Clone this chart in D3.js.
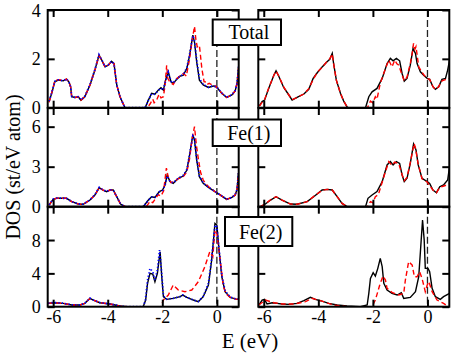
<!DOCTYPE html>
<html>
<head>
<meta charset="utf-8">
<script src="https://cdn.jsdelivr.net/npm/d3@7"></script>
<style>
body { margin: 0; background: #fff; }
svg text { fill: #000; }
</style>
</head>
<body>
<svg id="chart" width="452" height="354"></svg>
<script>
// energy ticks and panel names
var eTicks = [-6, -4, -2, 0];
var panelNames = ["Total", "Fe(1)", "Fe(2)"];
var yMaxes = [4, 7.4, 12];
var yTicks = [[0, 2, 4], [0, 3, 6], [0, 4, 8]];

// Total, left column
var totL_black = [[-6.15,0.25],[-6.05,0.6],[-5.94,1.06],[-5.82,1.13],[-5.63,1.1],[-5.51,1.17],[-5.42,1.05],[-5.36,0.86],[-5.32,0.45],[-5.2,0.42],[-5.08,0.45],[-4.98,0.31],[-4.84,0.45],[-4.65,0.93],[-4.47,1.54],[-4.32,2.15],[-4.22,1.95],[-4.1,1.67],[-3.98,1.74],[-3.86,1.9],[-3.77,1.81],[-3.67,0.93],[-3.55,0.45],[-3.37,0],[-2.63,0],[-2.51,0.31],[-2.39,0.59],[-2.27,0.55],[-2.15,0.72],[-2.05,0.82],[-1.96,0.72],[-1.88,1.13],[-1.78,1.47],[-1.68,1.06],[-1.6,1.0],[-1.47,1.16],[-1.35,1.29],[-1.23,1.33],[-1.1,1.61],[-1.01,2.08],[-0.88,2.97],[-0.82,2.69],[-0.74,1.88],[-0.64,1.13],[-0.5,0.93],[-0.31,0.83],[-0.13,0.89],[0,0.83],[0.18,0.59],[0.36,0.42],[0.55,0.52],[0.67,0.69],[0.74,1.0],[0.8,1.7]];
var totL_blue = [[-6.15,0.27],[-6.05,0.62],[-5.94,1.08],[-5.82,1.14],[-5.63,1.1],[-5.51,1.18],[-5.42,1.04],[-5.36,0.86],[-5.32,0.46],[-5.2,0.42],[-5.08,0.45],[-4.98,0.32],[-4.84,0.46],[-4.65,0.95],[-4.47,1.56],[-4.32,2.17],[-4.22,1.96],[-4.1,1.68],[-3.98,1.75],[-3.86,1.9],[-3.77,1.8],[-3.67,0.93],[-3.55,0.45],[-3.37,0],[-2.63,0],[-2.51,0.3],[-2.39,0.57],[-2.27,0.55],[-2.15,0.7],[-2.05,0.8],[-1.96,0.72],[-1.88,1.1],[-1.78,1.45],[-1.68,1.08],[-1.6,1.02],[-1.47,1.17],[-1.35,1.3],[-1.23,1.35],[-1.1,1.64],[-1.01,2.12],[-0.88,2.95],[-0.82,2.75],[-0.74,1.95],[-0.64,1.18],[-0.5,0.95],[-0.31,0.84],[-0.13,0.9],[0,0.84],[0.18,0.6],[0.36,0.43],[0.55,0.53],[0.67,0.7],[0.74,1.0],[0.8,1.7]];
var totL_red = [[-6.15,0.22],[-6.05,0.62],[-5.94,1.1],[-5.82,1.15],[-5.63,1.12],[-5.51,1.17],[-5.42,1.05],[-5.36,0.86],[-5.32,0.45],[-5.2,0.42],[-5.08,0.45],[-4.98,0.31],[-4.84,0.45],[-4.65,0.93],[-4.47,1.54],[-4.32,2.12],[-4.22,1.95],[-4.1,1.67],[-3.98,1.74],[-3.86,1.9],[-3.77,1.81],[-3.67,0.93],[-3.55,0.45],[-3.37,0],[-2.55,0],[-2.45,0.15],[-2.35,0.35],[-2.3,0.2],[-2.21,0.3],[-2.12,0.55],[-2.05,0.4],[-1.96,0.45],[-1.9,0.9],[-1.84,1.74],[-1.8,1.2],[-1.72,1.05],[-1.6,0.95],[-1.47,1.2],[-1.35,1.3],[-1.23,1.4],[-1.12,1.3],[-1.0,2.0],[-0.9,2.8],[-0.82,3.33],[-0.77,2.8],[-0.72,2.49],[-0.64,2.55],[-0.55,1.6],[-0.47,1.07],[-0.4,1.05],[-0.36,0.95],[-0.28,1.0],[-0.2,0.95],[-0.09,0.93],[0,0.83],[0.18,0.59],[0.36,0.42],[0.55,0.52],[0.67,0.69],[0.74,1.0],[0.8,1.7]];

// Total, right column
var totR_black = [[-6.16,0.07],[-6.06,0.25],[-5.97,0.31],[-5.82,0.79],[-5.63,1.33],[-5.55,1.51],[-5.45,1.29],[-5.27,0.83],[-5.08,0.52],[-4.96,0.31],[-4.78,0.42],[-4.53,0.56],[-4.35,0.75],[-4.19,1.2],[-4.04,1.43],[-3.86,1.67],[-3.68,1.88],[-3.58,1.98],[-3.49,2.22],[-3.44,1.81],[-3.34,1.13],[-3.19,0.59],[-3.07,0.27],[-2.95,0.04],[-2.9,0],[-2.27,0],[-2.15,0.45],[-2.03,0.65],[-1.85,0.79],[-1.66,1.2],[-1.48,1.81],[-1.36,2.02],[-1.26,1.92],[-1.14,2.02],[-1.02,1.92],[-0.93,1.4],[-0.85,1.09],[-0.75,1.2],[-0.63,1.74],[-0.53,2.42],[-0.44,2.22],[-0.38,1.81],[-0.26,1.47],[-0.14,1.33],[-0.01,1.2],[0.08,1.16],[0.2,0.86],[0.29,0.75],[0.41,0.86],[0.53,1.16],[0.66,1.2],[0.74,1.54],[0.81,1.95]];
var totR_red = [[-6.16,0.07],[-6.06,0.22],[-5.97,0.33],[-5.82,0.8],[-5.63,1.33],[-5.55,1.5],[-5.45,1.3],[-5.27,0.85],[-5.08,0.52],[-4.96,0.33],[-4.78,0.42],[-4.53,0.56],[-4.35,0.78],[-4.19,1.15],[-4.04,1.45],[-3.86,1.65],[-3.68,1.9],[-3.58,2.0],[-3.49,2.2],[-3.44,1.8],[-3.34,1.13],[-3.19,0.59],[-3.07,0.27],[-2.95,0.04],[-2.9,0],[-2.2,0],[-2.09,0.27],[-2.0,0.2],[-1.91,0.45],[-1.85,0.35],[-1.73,1.0],[-1.54,1.6],[-1.42,1.95],[-1.3,1.67],[-1.2,1.95],[-1.12,1.8],[-1.05,1.74],[-0.95,1.4],[-0.85,1.1],[-0.75,1.25],[-0.63,1.8],[-0.55,2.3],[-0.51,2.63],[-0.46,2.4],[-0.42,2.5],[-0.32,1.67],[-0.2,1.45],[-0.1,1.3],[-0.01,1.2],[0.08,1.16],[0.2,0.86],[0.29,0.75],[0.41,0.86],[0.53,1.1],[0.66,1.15],[0.8,1.2]];

// Fe(1), left column
var fe1L_black = [[-6.15,0.13],[-6.0,0.55],[-5.88,0.63],[-5.51,0.63],[-5.32,0.38],[-5.08,0.2],[-4.9,0.18],[-4.65,0.5],[-4.47,0.88],[-4.31,1.43],[-4.17,1.25],[-4.04,1.13],[-3.92,1.25],[-3.8,1.25],[-3.67,0.75],[-3.53,0.2],[-3.37,0],[-2.7,0],[-2.51,0.5],[-2.39,0.75],[-2.27,0.7],[-2.11,1.13],[-1.99,1.25],[-1.9,1.63],[-1.82,2.38],[-1.72,1.88],[-1.6,1.75],[-1.41,2.13],[-1.23,2.3],[-1.1,2.75],[-1.01,3.75],[-0.88,5.38],[-0.82,5.0],[-0.74,3.5],[-0.64,2.25],[-0.5,1.75],[-0.31,1.45],[-0.07,1.13],[0.12,0.88],[0.36,0.55],[0.55,0.7],[0.67,0.88],[0.74,1.3],[0.79,2.5]];
var fe1L_blue = [[-6.15,0.15],[-6.0,0.57],[-5.88,0.64],[-5.51,0.63],[-5.32,0.38],[-5.08,0.21],[-4.9,0.19],[-4.65,0.52],[-4.47,0.9],[-4.31,1.45],[-4.17,1.26],[-4.04,1.14],[-3.92,1.26],[-3.8,1.25],[-3.67,0.75],[-3.53,0.2],[-3.37,0],[-2.7,0],[-2.51,0.48],[-2.39,0.72],[-2.27,0.7],[-2.11,1.1],[-1.99,1.22],[-1.9,1.6],[-1.82,2.3],[-1.72,1.9],[-1.6,1.78],[-1.41,2.15],[-1.23,2.35],[-1.1,2.8],[-1.01,3.8],[-0.88,5.3],[-0.82,5.1],[-0.74,3.6],[-0.64,2.3],[-0.5,1.78],[-0.31,1.46],[-0.07,1.14],[0.12,0.89],[0.36,0.56],[0.55,0.7],[0.67,0.89],[0.74,1.3],[0.79,2.5]];
var fe1L_red = [[-6.15,0.12],[-6.0,0.55],[-5.88,0.63],[-5.51,0.63],[-5.32,0.38],[-5.08,0.2],[-4.9,0.18],[-4.65,0.5],[-4.47,0.88],[-4.31,1.43],[-4.17,1.25],[-4.04,1.13],[-3.92,1.25],[-3.8,1.25],[-3.67,0.75],[-3.53,0.2],[-3.37,0],[-2.6,0],[-2.55,0.1],[-2.45,0.4],[-2.35,0.3],[-2.25,0.6],[-2.15,0.9],[-2.05,0.8],[-1.95,1.2],[-1.85,2.9],[-1.78,2.2],[-1.68,1.8],[-1.55,1.9],[-1.41,2.1],[-1.25,2.2],[-1.1,2.6],[-1.0,3.6],[-0.9,5.2],[-0.82,6.0],[-0.75,4.6],[-0.68,3.6],[-0.6,2.6],[-0.5,2.0],[-0.4,1.7],[-0.3,1.5],[-0.07,1.13],[0.12,0.88],[0.36,0.55],[0.55,0.7],[0.67,0.88],[0.74,1.3],[0.79,2.5]];

// Fe(1), right column
var fe1R_black = [[-6.12,0],[-5.94,0.2],[-5.75,0.5],[-5.55,0.75],[-5.33,0.5],[-5.02,0.2],[-4.78,0.18],[-4.41,0.38],[-4.17,0.75],[-3.86,1.25],[-3.68,1.3],[-3.49,1.25],[-3.31,0.75],[-3.13,0.25],[-2.95,0],[-2.27,0],[-2.18,0.63],[-2.03,0.88],[-1.85,1.13],[-1.66,1.88],[-1.48,3.13],[-1.36,3.38],[-1.26,3.13],[-1.14,3.38],[-1.02,3.25],[-0.93,2.38],[-0.85,1.88],[-0.75,2.13],[-0.63,3.25],[-0.51,4.7],[-0.42,4.25],[-0.34,3.13],[-0.2,2.13],[-0.01,1.88],[0.08,1.75],[0.2,1.25],[0.33,1.05],[0.45,1.5],[0.59,1.63],[0.74,2.0],[0.81,3.0]];
var fe1R_red = [[-6.12,0],[-5.94,0.22],[-5.75,0.52],[-5.55,0.75],[-5.33,0.5],[-5.02,0.2],[-4.78,0.18],[-4.41,0.38],[-4.17,0.77],[-3.86,1.22],[-3.68,1.3],[-3.49,1.25],[-3.31,0.75],[-3.13,0.25],[-2.95,0],[-2.2,0],[-2.09,0.38],[-2.0,0.3],[-1.91,0.75],[-1.8,0.9],[-1.6,2.25],[-1.42,3.38],[-1.3,3.1],[-1.2,3.35],[-1.05,3.2],[-0.93,2.4],[-0.85,1.95],[-0.75,2.2],[-0.63,3.3],[-0.49,4.75],[-0.44,4.4],[-0.34,3.2],[-0.2,2.1],[-0.01,1.85],[0.2,1.25],[0.33,1.05],[0.45,1.45],[0.6,1.55],[0.8,1.7]];

// Fe(2), left column
var fe2L_black = [[-6.18,0.4],[-6.0,0.48],[-5.63,0.4],[-5.32,0.2],[-5.02,0.2],[-4.84,0.4],[-4.65,1.0],[-4.53,0.8],[-4.29,0.48],[-3.92,0.32],[-3.55,0.08],[-3.3,0],[-2.7,0],[-2.61,0.8],[-2.54,2.8],[-2.45,4.0],[-2.35,3.92],[-2.27,3.0],[-2.18,4.0],[-2.08,6.6],[-2.02,3.6],[-1.96,1.2],[-1.84,0.88],[-1.6,1.0],[-1.35,1.2],[-1.25,1.4],[-1.1,1.12],[-0.86,0.8],[-0.68,0.6],[-0.5,1.2],[-0.31,2.6],[-0.19,5.6],[-0.07,10.0],[0,9.8],[0.08,6.8],[0.18,3.6],[0.3,1.8],[0.49,1.12],[0.73,0.88],[0.8,0.9]];
var fe2L_blue = [[-6.18,0.42],[-6.0,0.5],[-5.63,0.42],[-5.32,0.22],[-5.02,0.2],[-4.84,0.42],[-4.65,1.02],[-4.53,0.82],[-4.29,0.5],[-3.92,0.33],[-3.55,0.08],[-3.3,0],[-2.7,0],[-2.62,0.8],[-2.54,3.2],[-2.45,4.6],[-2.35,4.2],[-2.27,3.2],[-2.18,4.4],[-2.1,6.8],[-2.02,4.0],[-1.96,1.3],[-1.84,0.9],[-1.6,1.0],[-1.35,1.2],[-1.25,1.4],[-1.1,1.12],[-0.86,0.8],[-0.68,0.62],[-0.5,1.25],[-0.31,2.8],[-0.19,5.8],[-0.07,9.8],[0,9.6],[0.08,6.9],[0.18,3.8],[0.3,1.9],[0.49,1.15],[0.73,0.9],[0.8,0.92]];
var fe2L_red = [[-6.18,0.38],[-6.0,0.46],[-5.63,0.4],[-5.32,0.2],[-5.02,0.2],[-4.84,0.4],[-4.65,0.98],[-4.53,0.8],[-4.29,0.48],[-3.92,0.32],[-3.55,0.08],[-3.3,0],[-2.05,0],[-1.96,0.8],[-1.78,1.4],[-1.6,2.6],[-1.41,2.0],[-1.17,1.8],[-0.92,2.0],[-0.68,3.0],[-0.44,4.8],[-0.26,6.6],[-0.15,6.0],[-0.07,9.2],[0,8.8],[0.12,5.6],[0.24,2.4],[0.35,1.5],[0.49,1.12],[0.73,0.88],[0.8,0.9]];

// Fe(2), right column
var fe2R_black = [[-6.18,0.2],[-6.06,0.8],[-5.97,0.88],[-5.88,0.32],[-5.69,0.48],[-5.51,0.4],[-5.33,0.32],[-5.08,0.28],[-4.78,0.4],[-4.53,0.72],[-4.29,1.12],[-4.11,0.88],[-3.92,0.72],[-3.62,0.4],[-3.31,0.2],[-2.95,0.08],[-2.46,0],[-2.21,0.2],[-2.15,1.6],[-2.09,3.4],[-1.99,4.08],[-1.91,3.68],[-1.82,4.6],[-1.73,5.8],[-1.66,4.8],[-1.6,2.8],[-1.48,2.0],[-1.3,1.6],[-1.11,1.4],[-0.96,1.68],[-0.87,1.0],[-0.63,1.12],[-0.44,1.8],[-0.32,3.6],[-0.23,8.0],[-0.18,10.4],[-0.12,8.0],[-0.08,4.6],[0.02,4.6],[0.08,4.2],[0.17,2.2],[0.29,1.2],[0.47,0.88],[0.59,1.2],[0.81,1.6]];
var fe2R_red = [[-6.18,0.2],[-5.94,0.8],[-5.63,0.48],[-5.3,0.32],[-4.9,0.32],[-4.47,0.6],[-4.23,1.0],[-3.92,0.72],[-3.43,0.2],[-2.95,0],[-2.03,0],[-1.91,0.8],[-1.75,2.6],[-1.63,3.68],[-1.54,3.2],[-1.48,2.2],[-1.3,1.72],[-1.05,1.4],[-0.87,1.6],[-0.81,3.2],[-0.69,5.4],[-0.56,5.0],[-0.48,3.6],[-0.38,3.6],[-0.29,4.2],[-0.2,3.4],[-0.08,1.8],[-0.01,2.6],[0.05,3.0],[0.17,1.8],[0.35,0.8],[0.59,0.4],[0.77,0]];

var panelSeries = [
	[[totL_black, totL_red, totL_blue], [totR_black, totR_red]],
	[[fe1L_black, fe1L_red, fe1L_blue], [fe1R_black, fe1R_red]],
	[[fe2L_black, fe2L_red, fe2L_blue], [fe2R_black, fe2R_red]]
];

var svg = d3.select("#chart");
var colX = [[47.7, 238.7], [258.3, 449.3]];
var rowY = [[10, 107.7], [108, 206.7], [206.7, 306.7]];
var styles = [
	{ color: "#000", width: 1.4, dash: null },
	{ color: "#ff0000", width: 1.4, dash: "5,3" },
	{ color: "#0000ff", width: 1.8, dash: "1.2,2.2" }
];
var serif = "Liberation Serif, Times New Roman, Times, Nimbus Roman, DejaVu Serif, Noto Serif, serif";

for (var r = 0; r < 3; r++)
{
	drawRow(r);
}

function drawRow(r)
{
	var y = d3.scaleLinear().domain([0, yMaxes[r]]).range([rowY[r][1], rowY[r][0]]);
	for (var c = 0; c < 2; c++)
	{
		var x = d3.scaleLinear().domain([-6.2, 0.8]).range(colX[c]);
		var clipId = "clip" + r + c;
		svg.append("clipPath").attr("id", clipId)
			.append("rect")
			.attr("x", colX[c][0]).attr("y", rowY[r][0])
			.attr("width", colX[c][1] - colX[c][0])
			.attr("height", rowY[r][1] - rowY[r][0]);

		var g = svg.append("g").attr("clip-path", "url(#" + clipId + ")");

		//Fermi level
		g.append("line")
			.attr("x1", x(0)).attr("x2", x(0))
			.attr("y1", rowY[r][0]).attr("y2", rowY[r][1])
			.style("stroke", "#222")
			.style("stroke-width", 1.3)
			.style("stroke-dasharray", "7,3");

		var line = d3.line().x(function(d) { return x(d[0]); }).y(function(d) { return y(d[1]); });
		var series = panelSeries[r][c];
		// black, red, then blue dots on top
		for (var k = 0; k < series.length; k++)
		{
			g.append("path")
				.attr("d", line(series[k]))
				.style("fill", "none")
				.style("stroke", styles[k].color)
				.style("stroke-width", styles[k].width)
				.style("stroke-dasharray", styles[k].dash);
		}

		// ticks on all four sides, pointing inwards
		var tickLen = 7;
		var col = c;
		var axBottom = svg.append("g").attr("transform", "translate(0," + rowY[r][1] + ")")
			.call(d3.axisBottom(x).tickValues(eTicks).tickSize(-tickLen).tickSizeOuter(0)
				.tickFormat(function(d) { return (r == 2) ? String(d) : ""; }));
		var axTop = svg.append("g").attr("transform", "translate(0," + rowY[r][0] + ")")
			.call(d3.axisTop(x).tickValues(eTicks).tickSize(-tickLen).tickSizeOuter(0).tickFormat(""));
		var axLeft = svg.append("g").attr("transform", "translate(" + colX[c][0] + ",0)")
			.call(d3.axisLeft(y).tickValues(yTicks[r]).tickSize(-tickLen).tickSizeOuter(0)
				.tickFormat(function(d) { return (col == 0) ? String(d) : ""; }));
		var axRight = svg.append("g").attr("transform", "translate(" + colX[c][1] + ",0)")
			.call(d3.axisRight(y).tickValues(yTicks[r]).tickSize(-tickLen).tickSizeOuter(0).tickFormat(""));

		[axBottom, axTop, axLeft, axRight].forEach(function(a) {
			a.attr("font-family", null).attr("font-size", null);
			a.select(".domain").remove();
			a.selectAll("line").style("stroke", "#000").style("stroke-width", 2);
			a.selectAll("text")
				.style("font-family", serif)
				.style("font-size", "18px")
				.style("fill", "#000");
		});
		axLeft.selectAll("text").attr("x", -7).attr("dy", "0.34em");
		axBottom.selectAll("text").attr("y", 4).attr("dy", "0.71em");

		//Frame
		svg.append("rect")
			.attr("x", colX[c][0]).attr("y", rowY[r][0])
			.attr("width", colX[c][1] - colX[c][0])
			.attr("height", rowY[r][1] - rowY[r][0])
			.style("fill", "none")
			.style("stroke", "#000")
			.style("stroke-width", 2);
	}
}

// name boxes
var boxes = [[212.7, 19.5, 68.3, 25.5], [212.7, 119.5, 68.3, 26.5], [225, 217, 67.3, 29]];
for (var i = 0; i < 3; i++)
{
	var b = boxes[i];
	svg.append("rect")
		.attr("x", b[0]).attr("y", b[1]).attr("width", b[2]).attr("height", b[3])
		.style("fill", "#fff").style("stroke", "#000").style("stroke-width", 2);
	svg.append("text")
		.attr("x", b[0] + b[2] / 2 + 2).attr("y", b[1] + b[3] / 2)
		.attr("dy", "0.35em")
		.attr("text-anchor", "middle")
		.style("font-family", serif)
		.style("font-size", "20px")
		.text(panelNames[i]);
}

// axis titles
svg.append("text")
	.attr("transform", "translate(20,167) rotate(-90)")
	.attr("text-anchor", "middle")
	.style("font-family", serif)
	.style("font-size", "20px")
	.text("DOS (st/eV atom)");
svg.append("text")
	.attr("x", 250).attr("y", 348)
	.attr("text-anchor", "middle")
	.style("font-family", serif)
	.style("font-size", "21px")
	.text("E (eV)");
</script>
</body>
</html>
